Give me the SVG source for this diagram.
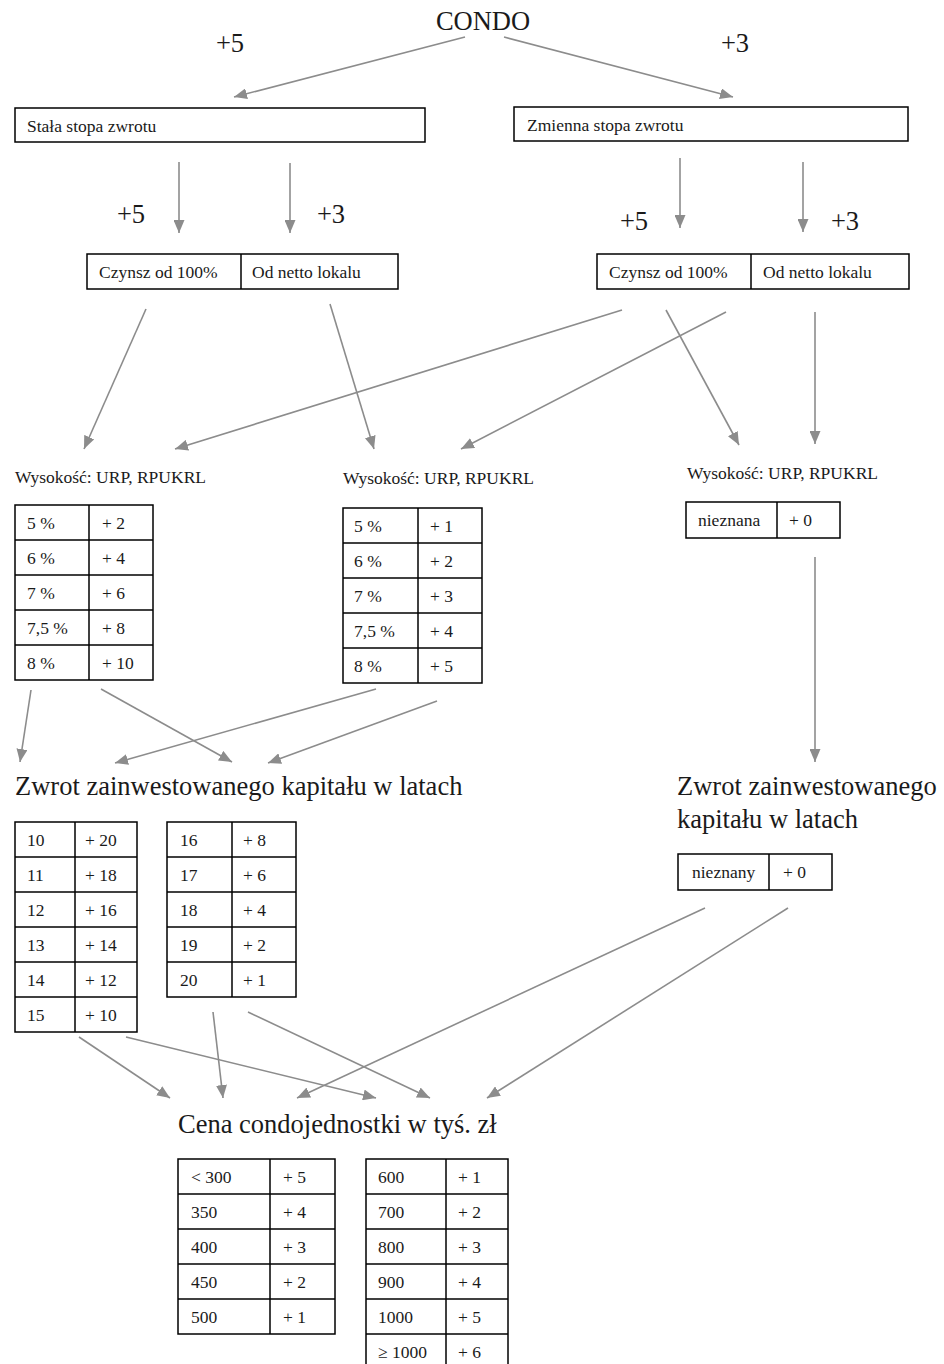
<svg xmlns="http://www.w3.org/2000/svg" width="944" height="1364" viewBox="0 0 944 1364" font-family="'Liberation Serif', 'Times New Roman', Tinos, 'DejaVu Serif', serif">
<defs>
<marker id="ah" markerWidth="13" markerHeight="11" refX="13" refY="5.5" orient="auto" markerUnits="userSpaceOnUse"><path d="M0,0 L13,5.5 L0,11 z" fill="#8c8c8c"/></marker>
</defs>
<style>
text{font-family:'Liberation Serif','Times New Roman',Tinos,'DejaVu Serif',serif;fill:#1a1a1a}
.big{font-size:26.5px}
.sm{font-size:17.5px}
.box{fill:#fff;stroke:#000;stroke-width:1.5}
.grid line{stroke:#000;stroke-width:1.5}
#connectors line{stroke:#8c8c8c;stroke-width:1.6;marker-end:url(#ah)}
</style>
<rect width="944" height="1364" fill="#fff"/>

<g id="connectors">
<line x1="465" y1="37" x2="234" y2="97"/>
<line x1="504" y1="37" x2="733" y2="97"/>
<line x1="179" y1="162" x2="179" y2="233"/>
<line x1="290" y1="163" x2="290" y2="233"/>
<line x1="680" y1="158" x2="680" y2="228"/>
<line x1="803" y1="162" x2="803" y2="232"/>
<line x1="146" y1="309" x2="84" y2="449"/>
<line x1="330" y1="304" x2="374" y2="449"/>
<line x1="622" y1="310" x2="175" y2="449"/>
<line x1="666" y1="310" x2="739" y2="445"/>
<line x1="726" y1="312" x2="461" y2="449"/>
<line x1="815" y1="312" x2="815" y2="444"/>
<line x1="31" y1="690" x2="20" y2="762"/>
<line x1="101" y1="689" x2="232" y2="762"/>
<line x1="376" y1="689" x2="115" y2="763"/>
<line x1="437" y1="701" x2="268" y2="763"/>
<line x1="815" y1="557" x2="815" y2="762"/>
<line x1="79" y1="1037" x2="170" y2="1098"/>
<line x1="126" y1="1037" x2="376" y2="1098"/>
<line x1="213" y1="1012" x2="223" y2="1098"/>
<line x1="248" y1="1012" x2="430" y2="1098"/>
<line x1="705" y1="908" x2="297" y2="1098"/>
<line x1="788" y1="908" x2="487" y2="1098"/>
</g>

<g id="edge-labels">
<text class="big" x="230" y="52" text-anchor="middle">+5</text>
<text class="big" x="735" y="52" text-anchor="middle">+3</text>
<text class="big" x="131" y="223" text-anchor="middle">+5</text>
<text class="big" x="331" y="223" text-anchor="middle">+3</text>
<text class="big" x="634" y="230" text-anchor="middle">+5</text>
<text class="big" x="845" y="230" text-anchor="middle">+3</text>
</g>

<g id="condo"><text class="big" x="483" y="30" text-anchor="middle">CONDO</text></g>

<g id="stala">
<rect class="box" x="15" y="108" width="410" height="34"/>
<text class="sm" x="27" y="132">Stała stopa zwrotu</text>
</g>
<g id="zmienna">
<rect class="box" x="514" y="107" width="394" height="34"/>
<text class="sm" x="527" y="131">Zmienna stopa zwrotu</text>
</g>

<g id="czynsz-left" class="grid">
<rect class="box" x="87" y="254" width="311" height="35"/>
<line x1="241" y1="254" x2="241" y2="289"/>
<text class="sm" x="99" y="278">Czynsz od 100%</text>
<text class="sm" x="252" y="278">Od netto lokalu</text>
</g>
<g id="czynsz-right" class="grid">
<rect class="box" x="597" y="254" width="312" height="35"/>
<line x1="751" y1="254" x2="751" y2="289"/>
<text class="sm" x="609" y="278">Czynsz od 100%</text>
<text class="sm" x="763" y="278">Od netto lokalu</text>
</g>

<g id="wys1" class="grid">
<text class="sm" x="15" y="483">Wysokość: URP, RPUKRL</text>
<rect class="box" x="15" y="505" width="138" height="175"/>
<line x1="89" y1="505" x2="89" y2="680"/>
<line x1="15" y1="540" x2="153" y2="540"/>
<line x1="15" y1="575" x2="153" y2="575"/>
<line x1="15" y1="610" x2="153" y2="610"/>
<line x1="15" y1="645" x2="153" y2="645"/>
<text class="sm" x="27" y="529">5 %</text><text class="sm" x="102" y="529">+ 2</text>
<text class="sm" x="27" y="564">6 %</text><text class="sm" x="102" y="564">+ 4</text>
<text class="sm" x="27" y="599">7 %</text><text class="sm" x="102" y="599">+ 6</text>
<text class="sm" x="27" y="634">7,5 %</text><text class="sm" x="102" y="634">+ 8</text>
<text class="sm" x="27" y="669">8 %</text><text class="sm" x="102" y="669">+ 10</text>
</g>

<g id="wys2" class="grid">
<text class="sm" x="343" y="484">Wysokość: URP, RPUKRL</text>
<rect class="box" x="343" y="508" width="139" height="175"/>
<line x1="418" y1="508" x2="418" y2="683"/>
<line x1="343" y1="543" x2="482" y2="543"/>
<line x1="343" y1="578" x2="482" y2="578"/>
<line x1="343" y1="613" x2="482" y2="613"/>
<line x1="343" y1="648" x2="482" y2="648"/>
<text class="sm" x="354" y="532">5 %</text><text class="sm" x="430" y="532">+ 1</text>
<text class="sm" x="354" y="567">6 %</text><text class="sm" x="430" y="567">+ 2</text>
<text class="sm" x="354" y="602">7 %</text><text class="sm" x="430" y="602">+ 3</text>
<text class="sm" x="354" y="637">7,5 %</text><text class="sm" x="430" y="637">+ 4</text>
<text class="sm" x="354" y="672">8 %</text><text class="sm" x="430" y="672">+ 5</text>
</g>

<g id="wys3" class="grid">
<text class="sm" x="687" y="479">Wysokość: URP, RPUKRL</text>
<rect class="box" x="686" y="502" width="154" height="36"/>
<line x1="777" y1="502" x2="777" y2="538"/>
<text class="sm" x="698" y="526">nieznana</text>
<text class="sm" x="789" y="526">+ 0</text>
</g>

<g id="zwrot-left" class="grid">
<text class="big" x="15" y="795">Zwrot zainwestowanego kapitału w latach</text>
<rect class="box" x="15" y="822" width="122" height="210"/>
<line x1="75" y1="822" x2="75" y2="1032"/>
<line x1="15" y1="857" x2="137" y2="857"/>
<line x1="15" y1="892" x2="137" y2="892"/>
<line x1="15" y1="927" x2="137" y2="927"/>
<line x1="15" y1="962" x2="137" y2="962"/>
<line x1="15" y1="997" x2="137" y2="997"/>
<text class="sm" x="27" y="846">10</text><text class="sm" x="85" y="846">+ 20</text>
<text class="sm" x="27" y="881">11</text><text class="sm" x="85" y="881">+ 18</text>
<text class="sm" x="27" y="916">12</text><text class="sm" x="85" y="916">+ 16</text>
<text class="sm" x="27" y="951">13</text><text class="sm" x="85" y="951">+ 14</text>
<text class="sm" x="27" y="986">14</text><text class="sm" x="85" y="986">+ 12</text>
<text class="sm" x="27" y="1021">15</text><text class="sm" x="85" y="1021">+ 10</text>
<rect class="box" x="167" y="822" width="129" height="175"/>
<line x1="232" y1="822" x2="232" y2="997"/>
<line x1="167" y1="857" x2="296" y2="857"/>
<line x1="167" y1="892" x2="296" y2="892"/>
<line x1="167" y1="927" x2="296" y2="927"/>
<line x1="167" y1="962" x2="296" y2="962"/>
<text class="sm" x="180" y="846">16</text><text class="sm" x="243" y="846">+ 8</text>
<text class="sm" x="180" y="881">17</text><text class="sm" x="243" y="881">+ 6</text>
<text class="sm" x="180" y="916">18</text><text class="sm" x="243" y="916">+ 4</text>
<text class="sm" x="180" y="951">19</text><text class="sm" x="243" y="951">+ 2</text>
<text class="sm" x="180" y="986">20</text><text class="sm" x="243" y="986">+ 1</text>
</g>

<g id="zwrot-right" class="grid">
<text class="big" x="677" y="795">Zwrot zainwestowanego</text>
<text class="big" x="677" y="828">kapitału w latach</text>
<rect class="box" x="678" y="854" width="154" height="36"/>
<line x1="769" y1="854" x2="769" y2="890"/>
<text class="sm" x="692" y="878">nieznany</text>
<text class="sm" x="783" y="878">+ 0</text>
</g>

<g id="cena" class="grid">
<text class="big" x="178" y="1133">Cena condojednostki w tyś. zł</text>
<rect class="box" x="178" y="1159" width="157" height="175"/>
<line x1="270" y1="1159" x2="270" y2="1334"/>
<line x1="178" y1="1194" x2="335" y2="1194"/>
<line x1="178" y1="1229" x2="335" y2="1229"/>
<line x1="178" y1="1264" x2="335" y2="1264"/>
<line x1="178" y1="1299" x2="335" y2="1299"/>
<text class="sm" x="191" y="1183">&lt; 300</text><text class="sm" x="283" y="1183">+ 5</text>
<text class="sm" x="191" y="1218">350</text><text class="sm" x="283" y="1218">+ 4</text>
<text class="sm" x="191" y="1253">400</text><text class="sm" x="283" y="1253">+ 3</text>
<text class="sm" x="191" y="1288">450</text><text class="sm" x="283" y="1288">+ 2</text>
<text class="sm" x="191" y="1323">500</text><text class="sm" x="283" y="1323">+ 1</text>
<rect class="box" x="366" y="1159" width="142" height="212"/>
<line x1="446" y1="1159" x2="446" y2="1371"/>
<line x1="366" y1="1194" x2="508" y2="1194"/>
<line x1="366" y1="1229" x2="508" y2="1229"/>
<line x1="366" y1="1264" x2="508" y2="1264"/>
<line x1="366" y1="1299" x2="508" y2="1299"/>
<line x1="366" y1="1334" x2="508" y2="1334"/>
<text class="sm" x="378" y="1183">600</text><text class="sm" x="458" y="1183">+ 1</text>
<text class="sm" x="378" y="1218">700</text><text class="sm" x="458" y="1218">+ 2</text>
<text class="sm" x="378" y="1253">800</text><text class="sm" x="458" y="1253">+ 3</text>
<text class="sm" x="378" y="1288">900</text><text class="sm" x="458" y="1288">+ 4</text>
<text class="sm" x="378" y="1323">1000</text><text class="sm" x="458" y="1323">+ 5</text>
<text class="sm" x="378" y="1358">≥ 1000</text><text class="sm" x="458" y="1358">+ 6</text>
</g>
</svg>
